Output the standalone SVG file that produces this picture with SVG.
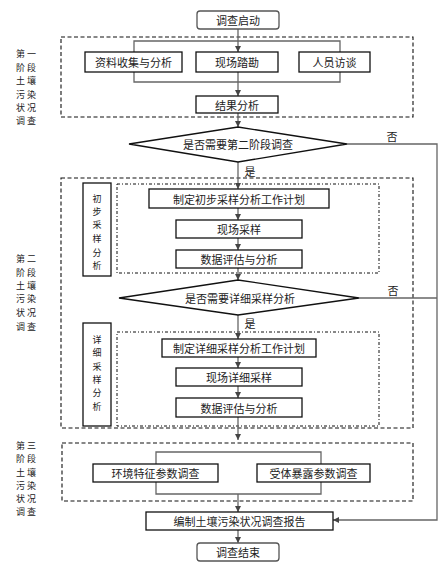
<svg xmlns="http://www.w3.org/2000/svg" width="442" height="567" viewBox="0 0 442 567">
<style>
text{font-family:"Noto Sans CJK SC","Noto Sans",sans-serif;font-size:11px;fill:#222;text-anchor:middle;dominant-baseline:central}
.lab{font-size:9px;letter-spacing:2px}
.v{font-size:9px}
.box{fill:#fff;stroke:#111;stroke-width:1.3}
.rbox{fill:#fff;stroke:#555;stroke-width:1.3}
.dash{fill:none;stroke:#111;stroke-width:1.1;stroke-dasharray:4,2.5}
.dash2{fill:none;stroke:#111;stroke-width:1;stroke-dasharray:3,2,1,2}
.ln{fill:none;stroke:#666;stroke-width:1.3}
.ar{marker-end:url(#arr)}
</style>
<defs>
<marker id="arr" viewBox="0 0 8 8" refX="8" refY="4" markerWidth="6" markerHeight="6" orient="auto" markerUnits="userSpaceOnUse">
<path d="M0,0 L8,4 L0,8 z" fill="#444"/>
</marker>
</defs>
<rect width="442" height="567" fill="#fff"/>

<g id="frames">
<rect class="dash" x="61" y="37" width="352" height="80"/>
<rect class="dash" x="61" y="178" width="352" height="250"/>
<rect class="dash2" x="117" y="184" width="262" height="89"/>
<rect class="dash2" x="117" y="332" width="262" height="94"/>
<rect class="dash" x="62" y="443" width="351" height="58"/>
</g>

<g id="connectors">
<line class="ln ar" x1="238" y1="29" x2="238" y2="52"/>
<polyline class="ln" points="134,52 134,41 340,41 340,52"/>
<polyline class="ln" points="134,72 134,82 340,82 340,72"/>
<line class="ln ar" x1="238" y1="72" x2="238" y2="96"/>
<line class="ln ar" x1="238" y1="113" x2="238" y2="127"/>
<line class="ln ar" x1="238" y1="162" x2="238" y2="189"/>
<line class="ln ar" x1="238" y1="208" x2="238" y2="220"/>
<line class="ln ar" x1="238" y1="238" x2="238" y2="250"/>
<line class="ln ar" x1="238" y1="268" x2="238" y2="280"/>
<line class="ln ar" x1="238" y1="315" x2="238" y2="339"/>
<line class="ln ar" x1="238" y1="357" x2="238" y2="368"/>
<line class="ln ar" x1="238" y1="386" x2="238" y2="398"/>
<line class="ln ar" x1="238" y1="417" x2="238" y2="440"/>
<polyline class="ln" points="156,464 156,452 321,452 321,464"/>
<polyline class="ln" points="156,482 156,494 321,494 321,482"/>
<line class="ln ar" x1="238" y1="494" x2="238" y2="512"/>
<line class="ln ar" x1="238" y1="530" x2="238" y2="543"/>
<polyline class="ln ar" points="347,144 437,144 437,520 333,520"/>
<line class="ln" x1="359" y1="298" x2="437" y2="298"/>
<text x="392" y="136">否</text>
<text x="393" y="290">否</text>
<text x="250" y="171">是</text>
<text x="250" y="323">是</text>
</g>

<g id="start"><rect class="rbox" x="197" y="11" width="82" height="18" rx="3"/><text x="238" y="20">调查启动</text></g>
<g id="n1"><rect class="box" x="85" y="52" width="97" height="20"/><text x="133.5" y="62">资料收集与分析</text></g>
<g id="n2"><rect class="box" x="196" y="52" width="82" height="20"/><text x="237" y="62">现场踏勘</text></g>
<g id="n3"><rect class="box" x="299" y="52" width="71" height="20"/><text x="334.5" y="62">人员访谈</text></g>
<g id="n4"><rect class="box" x="196" y="96" width="82" height="17"/><text x="237" y="104.5">结果分析</text></g>
<g id="d1"><polygon class="box" points="129,144 238,127 347,144 238,162" stroke-width="1"/><text x="238" y="144">是否需要第二阶段调查</text></g>
<g id="s1"><rect class="box" x="83" y="183" width="28" height="93"/>
<text class="v" x="97" y="198">初</text><text class="v" x="97" y="211">步</text><text class="v" x="97" y="224">采</text><text class="v" x="97" y="238">样</text><text class="v" x="97" y="252">分</text><text class="v" x="97" y="265">析</text></g>
<g id="n5"><rect class="box" x="149" y="189" width="180" height="19"/><text x="239" y="198.5">制定初步采样分析工作计划</text></g>
<g id="n6"><rect class="box" x="176" y="220" width="126" height="18"/><text x="239" y="229">现场采样</text></g>
<g id="n7"><rect class="box" x="176" y="250" width="126" height="18"/><text x="239" y="259">数据评估与分析</text></g>
<g id="d2"><polygon class="box" points="119,298 238,280 359,298 238,315" stroke-width="1"/><text x="240" y="297.5">是否需要详细采样分析</text></g>
<g id="s2"><rect class="box" x="83" y="323" width="28" height="103"/>
<text class="v" x="97" y="339">详</text><text class="v" x="97" y="352">细</text><text class="v" x="97" y="366">采</text><text class="v" x="97" y="379">样</text><text class="v" x="97" y="392">分</text><text class="v" x="97" y="406">析</text></g>
<g id="n8"><rect class="box" x="162" y="339" width="154" height="18"/><text x="239" y="348">制定详细采样分析工作计划</text></g>
<g id="n9"><rect class="box" x="176" y="368" width="126" height="18"/><text x="239" y="377">现场详细采样</text></g>
<g id="n10"><rect class="box" x="176" y="398" width="126" height="19"/><text x="239" y="407.5">数据评估与分析</text></g>
<g id="n11"><rect class="box" x="93" y="464" width="125" height="18"/><text x="155.5" y="473">环境特征参数调查</text></g>
<g id="n12"><rect class="box" x="257" y="464" width="113" height="18"/><text x="313.5" y="473">受体暴露参数调查</text></g>
<g id="n13"><rect class="box" x="146" y="512" width="187" height="18"/><text x="239.5" y="521">编制土壤污染状况调查报告</text></g>
<g id="end"><rect class="rbox" x="197" y="543" width="82" height="18" rx="3"/><text x="238" y="552">调查结束</text></g>

<g id="labels">
<text class="lab" x="27" y="53">第一</text><text class="lab" x="27" y="67">阶段</text><text class="lab" x="27" y="80">土壤</text><text class="lab" x="27" y="94">污染</text><text class="lab" x="27" y="107">状况</text><text class="lab" x="27" y="120">调查</text>
<text class="lab" x="27" y="258">第二</text><text class="lab" x="27" y="272">阶段</text><text class="lab" x="27" y="285">土壤</text><text class="lab" x="27" y="298">污染</text><text class="lab" x="27" y="312">状况</text><text class="lab" x="27" y="326">调查</text>
<text class="lab" x="27" y="445">第三</text><text class="lab" x="27" y="458">阶段</text><text class="lab" x="27" y="472">土壤</text><text class="lab" x="27" y="485">污染</text><text class="lab" x="27" y="498">状况</text><text class="lab" x="27" y="511">调查</text>
</g>
</svg>
